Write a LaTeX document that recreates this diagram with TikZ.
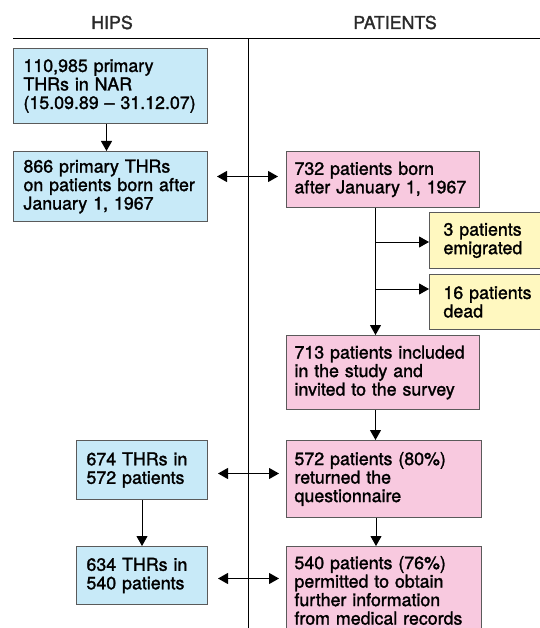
\documentclass[tikz,border=0pt]{standalone}
\usepackage{fontspec}
\setmainfont[FakeStretch=1.0,FakeBold=1.5]{TeX Gyre Heros}
\usetikzlibrary{arrows.meta,calc}
\definecolor{bluef}{HTML}{C8EAF8}
\definecolor{pinkf}{HTML}{F8C9DF}
\definecolor{yellowf}{HTML}{FFF8C0}
\definecolor{edgec}{HTML}{5A5A5A}
\definecolor{headc}{HTML}{2A2A2A}
\begin{document}
\begin{tikzpicture}[x=1pt,y=-1pt,
  every node/.style={font=\fontsize{17.8}{18.5}\selectfont},
  box/.style={draw=edgec,line width=1pt,anchor=north west,align=left,inner ysep=0pt,text=black,
    execute at begin node={\hyphenpenalty=10000\exhyphenpenalty=10000}},
  bluebox/.style={box,fill=bluef,inner xsep=10pt},
  pinkbox/.style={box,fill=pinkf,inner xsep=8pt},
  yelbox/.style={box,fill=yellowf,inner xsep=14pt},
  head/.style={text=headc,anchor=base},
  rule/.style={line width=1pt,draw=black},
  arr/.style={line width=1pt,-{Triangle[length=10pt,width=11pt]}},
  dbl/.style={line width=1pt,{Triangle[length=10pt,width=11pt]}-{Triangle[length=10pt,width=11pt]}}
]
\useasboundingbox (0,0) rectangle (539,628);
\fill[white] (0,0) rectangle (539,628);
% headers and column rules
\node[head] (hips) at (112,29) {HIPS};
\node[head] (pat) at (395,29) {PATIENTS};
\draw[rule] (13,39) -- (545,39);
\draw[rule] (248,39) -- (248,640);
% left column
\node[bluebox,text width=174pt,minimum width=194pt,minimum height=75pt] (b1) at (13,48)
  {110,985~primary\\THRs~in~NAR\\(15.09.89~--~31.12.07)};
\node[bluebox,text width=174pt,minimum width=194pt,minimum height=70pt] (b2) at (13,151)
  {866~primary~THRs\\on~patients~born~after\\January~1,~1967};
\node[bluebox,text width=111pt,minimum width=131pt,minimum height=59pt] (b3) at (76,440)
  {674~THRs~in\\572~patients};
\node[bluebox,text width=111pt,minimum width=131pt,minimum height=58pt] (b4) at (76,546)
  {634~THRs~in\\540~patients};
% right column
\node[pinkbox,text width=177pt,minimum width=193pt,minimum height=56pt] (p1) at (286,151)
  {732~patients~born\\after~January~1,~1967};
\node[yelbox,text width=100pt,minimum width=128pt,minimum height=56pt] (y1) at (429,212)
  {3~patients\\emigrated};
\node[yelbox,text width=100pt,minimum width=128pt,minimum height=55pt] (y2) at (429,274)
  {16~patients\\dead};
\node[pinkbox,text width=177pt,minimum width=193pt,minimum height=74pt] (p2) at (286,335)
  {713~patients~included\\in~the~study~and\\invited~to~the~survey};
\node[pinkbox,text width=179pt,minimum width=195pt,minimum height=77pt] (p3) at (286,440)
  {572~patients~(80\%)\\returned~the\\questionnaire};
\node[pinkbox,text width=179pt,minimum width=195pt,minimum height=88pt] (p4) at (286,546)
  {540~patients~(76\%)\\permitted~to~obtain\\further~information\\from~medical~records};
% connectors
\draw[arr] ([xshift=-4pt]b1.south) -- ([xshift=-4pt]b1.south |- b2.north);
\draw[arr] (b3.south) -- (b3.south |- b4.north);
\draw[arr] ([xshift=-7.5pt]p1.south) -- ([xshift=-7.5pt]p1.south |- p2.north);
\coordinate (c1) at ([xshift=-7.5pt]p1.south |- 0,242);
\coordinate (c2) at ([xshift=-7.5pt]p1.south |- 0,289);
\draw[arr] (c1) -- (c1 -| y1.west);
\draw[arr] (c2) -- (c2 -| y2.west);
\draw[arr] ([xshift=-7.5pt]p2.south) -- ([xshift=-7.5pt]p2.south |- p3.north);
\draw[arr] ([xshift=-8pt]p3.south) -- ([xshift=-8pt]p3.south |- p4.north);
\draw[dbl] ([xshift=9pt,yshift=10pt]b2.east) -- ([xshift=-8pt,yshift=10pt]b2.east -| p1.west);
\draw[dbl] ([xshift=10pt,yshift=-3.5pt]b3.east) -- ([xshift=-7pt,yshift=-3.5pt]b3.east -| p3.west);
\draw[dbl] ([xshift=10pt,yshift=-3pt]b4.east) -- ([xshift=-7pt,yshift=-3pt]b4.east -| p4.west);
\end{tikzpicture}
\end{document}
